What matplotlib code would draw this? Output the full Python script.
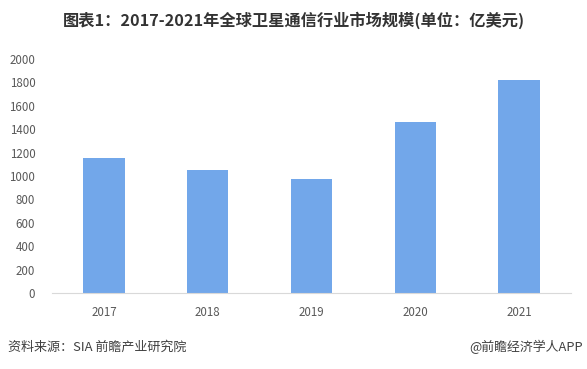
import matplotlib
matplotlib.use("Agg")
import matplotlib.pyplot as plt

plt.rcParams['font.family'] = ['Noto Sans CJK SC', 'DejaVu Sans']

years = ["2017", "2018", "2019", "2020", "2021"]
values = [1150, 1050, 975, 1460, 1820]
yticks = [0, 200, 400, 600, 800, 1000, 1200, 1400, 1600, 1800, 2000]

title = "图表1：2017-2021年全球卫星通信行业市场规模(单位：亿美元)"
source = "资料来源：SIA 前瞻产业研究院"
credit = "@前瞻经济学人APP"

W, H = 587, 369
fig = plt.figure(figsize=(W/100, H/100), dpi=100)
ax = fig.add_axes([52/W, 1-293/H, (571-52)/W, (293-59)/H])

ax.bar(range(len(years)), values, width=0.4, color="#72A7EA")
ax.set_xlim(-0.5, len(years)-0.5)
ax.set_ylim(0, 2000)
ax.set_yticks(yticks)
ax.set_xticks(range(len(years)))
ax.set_xticklabels(years)

for sp in ("top", "right", "left"):
    ax.spines[sp].set_visible(False)
ax.spines["bottom"].set_color("#d9d9d9")
ax.tick_params(axis="both", length=0, labelsize=8.3, colors="#595959")
ax.tick_params(axis="x", pad=9)
ax.tick_params(axis="y", pad=12)

fig.text(0.5, 1-20/H, title, ha="center", va="center", fontsize=11.7,
         fontweight="bold", color="#333333")
fig.text(8/W, 1-347/H, source, ha="left", va="center", fontsize=9.4, color="#404040")
fig.text(583/W, 1-347/H, credit, ha="right", va="center", fontsize=9.3, color="#404040")

fig.savefig("out.png", dpi=100)
